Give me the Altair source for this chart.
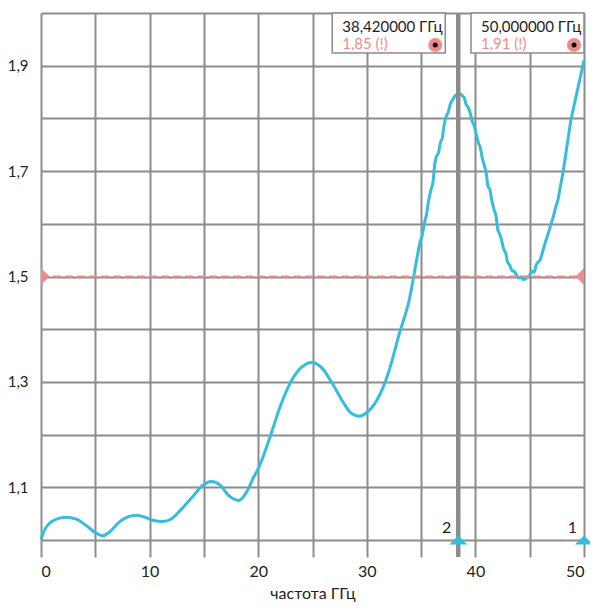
import altair as alt
import pandas as pd

# ---- data ----
freq = [0.0, 0.3, 0.8, 1.5, 2.3, 3.2, 4.2, 5.0, 5.7, 6.3, 7.2, 8.0, 8.8, 9.6, 10.4,
        11.2, 12.0, 13.0, 14.0, 14.8, 15.7, 16.5, 17.3, 18.2, 18.9, 19.6, 20.0, 21.0,
        22.0, 23.0, 24.0, 24.9, 25.8, 26.8, 27.8, 28.6, 29.3, 30.0, 31.0, 32.0, 33.0,
        33.9, 34.7, 34.9, 35.1, 35.3, 35.5, 35.7, 35.9, 36.1, 36.25, 36.4, 36.6, 36.8,
        36.95, 37.1, 37.3, 37.5, 37.7, 37.9, 38.1, 38.3, 38.42, 38.6, 38.8, 39.0, 39.15,
        39.3, 39.5, 39.7, 39.9, 40.1, 40.3, 40.45, 40.6, 40.8, 41.0, 41.15, 41.35, 41.5,
        41.7, 41.9, 42.05, 42.2, 42.4, 42.6, 42.8, 42.95, 43.15, 43.35, 43.6, 43.8, 44.0,
        44.2, 44.4, 44.6, 44.8, 45.0, 45.2, 45.4, 45.6, 45.8, 45.95, 46.2, 46.4, 46.6,
        46.8, 47.0, 47.2, 47.4, 47.6, 47.8, 48.0, 48.2, 48.5, 48.8, 49.1, 49.4, 49.7, 50.0]
swr = [1.000, 1.018, 1.032, 1.040, 1.043, 1.040, 1.027, 1.014, 1.008, 1.015, 1.034, 1.044,
       1.047, 1.043, 1.037, 1.035, 1.040, 1.060, 1.083, 1.102, 1.111, 1.104, 1.084, 1.075,
       1.090, 1.120, 1.135, 1.190, 1.252, 1.300, 1.328, 1.337, 1.328, 1.298, 1.262, 1.240,
       1.235, 1.242, 1.268, 1.318, 1.392, 1.455, 1.544, 1.565, 1.578, 1.601, 1.618, 1.645,
       1.664, 1.680, 1.712, 1.727, 1.735, 1.756, 1.762, 1.785, 1.803, 1.812, 1.828, 1.835,
       1.842, 1.846, 1.848, 1.846, 1.843, 1.838, 1.826, 1.822, 1.812, 1.795, 1.785, 1.768,
       1.752, 1.745, 1.728, 1.712, 1.696, 1.672, 1.664, 1.645, 1.628, 1.615, 1.590, 1.582,
       1.570, 1.552, 1.544, 1.528, 1.522, 1.512, 1.509, 1.502, 1.497, 1.499, 1.494, 1.496,
       1.499, 1.502, 1.510, 1.508, 1.522, 1.528, 1.531, 1.548, 1.562, 1.575, 1.588, 1.602,
       1.615, 1.632, 1.645, 1.668, 1.690, 1.715, 1.757, 1.797, 1.826, 1.854, 1.882, 1.910]

x_ticks = [0, 5, 10, 15, 20, 25, 30, 35, 40, 45, 50]
y_grid = [1.0, 1.1, 1.2, 1.3, 1.4, 1.5, 1.6, 1.7, 1.8, 1.9, 2.0]

marker_ids = ["1", "2"]
marker_freq = [50.0, 38.42]
marker_val = [1.91, 1.85]
marker_freq_text = ["50,000000 ГГц", "38,420000 ГГц"]
marker_val_text = ["1,91 (!)", "1,85 (!)"]

limit_value = 1.5
x_min, x_max = 0, 50
y_min, y_max = 1.0, 2.0

# ---- styles ----
BLUE = "#36bddc"
SALMON = "#ef8b8b"
GRID = "#8c8c8c"
FONT = "Lato"
W, H = 543, 527

curve = pd.DataFrame({"f": freq, "v": swr})
markers = pd.DataFrame({"id": marker_ids, "f": marker_freq, "v": marker_val,
                        "ft": marker_freq_text, "vt": marker_val_text,
                        "base": [y_min] * len(marker_ids)})
limit_df = pd.DataFrame({"x0": [x_min], "x1": [x_max], "y": [limit_value]})
limit_ends = pd.DataFrame({"f": [x_min, x_max], "y": [limit_value, limit_value],
                           "side": ["left", "right"]})

xs = alt.Scale(domain=[x_min, x_max], nice=False, zero=False)
ys = alt.Scale(domain=[y_min, y_max], nice=False, zero=False)

x_axis = alt.Axis(values=x_ticks, grid=True, gridColor=GRID, gridWidth=2, gridOpacity=1,
                  tickSize=17, tickColor=GRID, tickWidth=2, domain=False,
                  labelExpr="datum.value % 10 == 0 ? datum.label : ''",
                  labelFont=FONT, labelFontSize=16, labelColor="#222", labelPadding=6,
                  title="частота ГГц", titleFont=FONT, titleFontSize=16,
                  titleFontWeight="normal", titleColor="#222", titlePadding=6)
y_axis = alt.Axis(values=y_grid, grid=True, gridColor=GRID, gridWidth=2, gridOpacity=1,
                  ticks=False, domain=False,
                  labelExpr="round(datum.value*10) % 2 == 1 ? replace(format(datum.value, '.1f'), '.', ',') : ''",
                  labelFont=FONT, labelFontSize=15, labelColor="#222", labelPadding=13,
                  title=None)

line = alt.Chart(curve).mark_line(color=BLUE, strokeWidth=3, interpolate="monotone").encode(
    x=alt.X("f:Q", scale=xs, axis=x_axis),
    y=alt.Y("v:Q", scale=ys, axis=y_axis),
)

marker_rule = alt.Chart(markers).transform_filter("datum.f < 50").mark_rule(
    color=GRID, strokeWidth=4.5).encode(
    x=alt.X("f:Q", scale=xs), y=alt.value(0), y2=alt.value(H + 17))

limit_line = alt.Chart(limit_df).mark_rule(color=SALMON, strokeWidth=2, strokeDash=[8, 4]).encode(
    x=alt.X("x0:Q", scale=xs), x2="x1:Q", y=alt.Y("y:Q", scale=ys))

tri_right = "M0,-1L1,0L0,1Z"
tri_left = "M0,-1L-1,0L0,1Z"
limit_l = alt.Chart(limit_ends).transform_filter("datum.side == 'left'").mark_point(
    shape=tri_right, filled=True, size=289, color=SALMON, opacity=1).encode(
    x=alt.X("f:Q", scale=xs), y=alt.Y("y:Q", scale=ys))
limit_r = alt.Chart(limit_ends).transform_filter("datum.side == 'right'").mark_point(
    shape=tri_left, filled=True, size=289, color=SALMON, opacity=1).encode(
    x=alt.X("f:Q", scale=xs), y=alt.Y("y:Q", scale=ys))

bottom_tri = alt.Chart(markers).mark_point(
    shape="M-1,0.5L0,-0.5L1,0.5Z", filled=True, size=324, color=BLUE, opacity=1).encode(
    x=alt.X("f:Q", scale=xs), y=alt.Y("base:Q", scale=ys))
bottom_lbl = alt.Chart(markers).mark_text(
    align="right", baseline="middle", dx=-7, dy=-12, font=FONT, fontSize=16, color="#222").encode(
    x=alt.X("f:Q", scale=xs), y=alt.Y("base:Q", scale=ys), text="id:N")

# per-marker readout box layout (pixel offsets relative to the marker line)
box_layout = {"1": (-113, 0), "2": (-126, -13)}
layers = [line, marker_rule, limit_line, limit_l, limit_r, bottom_tri, bottom_lbl]
for mid, (l, r) in box_layout.items():
    base = alt.Chart(markers).transform_filter(f"datum.id == '{mid}'")
    layers.append(base.mark_rect(fill="white", stroke=GRID, strokeWidth=1.5,
                                 xOffset=l, x2Offset=r).encode(
        x=alt.X("f:Q", scale=xs), x2="f:Q", y=alt.value(0), y2=alt.value(40)))
    layers.append(base.mark_text(align="left", baseline="middle", dx=l + 10,
                                 font=FONT, fontSize=15, color="#222").encode(
        x=alt.X("f:Q", scale=xs), y=alt.value(14), text="ft:N"))
    layers.append(base.mark_text(align="left", baseline="middle", dx=l + 10,
                                 font=FONT, fontSize=15, color=SALMON).encode(
        x=alt.X("f:Q", scale=xs), y=alt.value(31), text="vt:N"))
    layers.append(base.mark_point(shape="circle", filled=True, size=196, color=SALMON,
                                  opacity=1, xOffset=r - 10).encode(
        x=alt.X("f:Q", scale=xs), y=alt.value(32)))
    layers.append(base.mark_point(shape="circle", filled=True, size=25, color="black",
                                  opacity=1, xOffset=r - 10).encode(
        x=alt.X("f:Q", scale=xs), y=alt.value(32)))

chart = alt.layer(*layers).properties(
    width=W, height=H,
    padding={"left": 33, "top": 5, "right": 6, "bottom": 64},
    autosize=alt.AutoSizeParams(type="none"),
).configure_view(stroke=None)

chart.save("out.html", embed_options={"renderer": "svg", "actions": False})
